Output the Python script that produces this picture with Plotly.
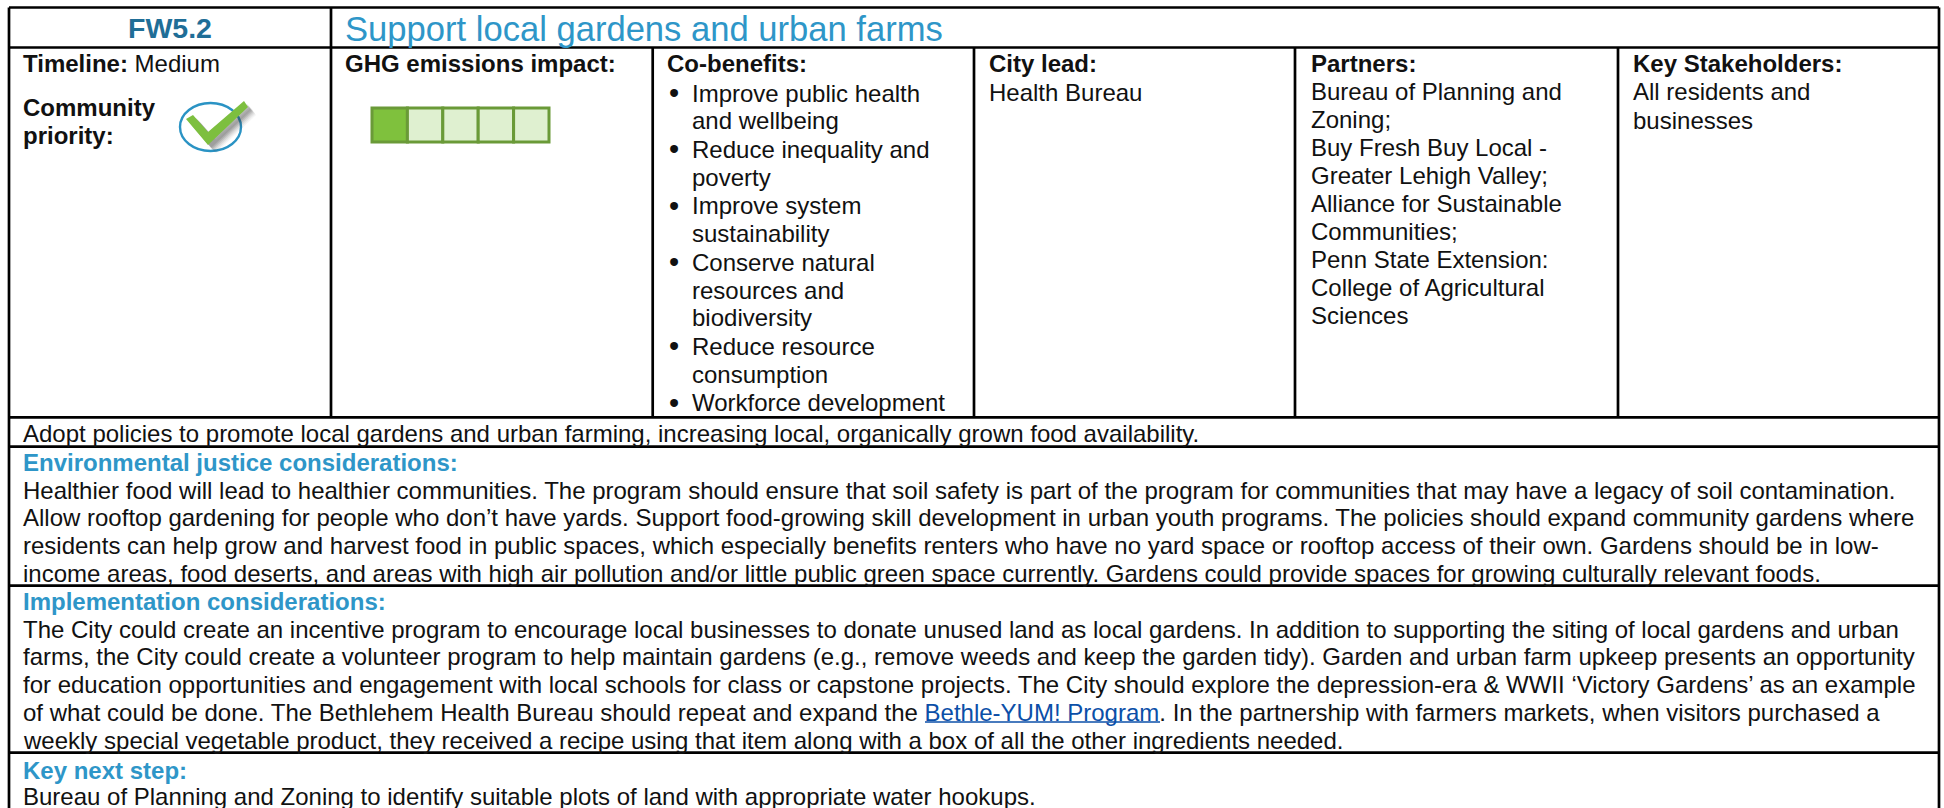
import plotly.graph_objects as go

FONT = "Liberation Sans Narrow, Liberation Sans, Arial, sans-serif"
BODY = 24
BLUE = "#2E96C8"
DARK_BLUE = "#1F6E97"
INK = "#111111"

code_label = "FW5.2"
title_label = "Support local gardens and urban farms"
timeline = "<b>Timeline:</b> Medium"
priority_label = ["<b>Community</b>", "<b>priority:</b>"]
ghg_label = "<b>GHG emissions impact:</b>"
ghg_levels = [1, 0, 0, 0, 0]
cobenefits_label = "<b>Co-benefits:</b>"
cobenefits = [
    ["Improve public health", "and wellbeing"],
    ["Reduce inequality and", "poverty"],
    ["Improve system", "sustainability"],
    ["Conserve natural", "resources and", "biodiversity"],
    ["Reduce resource", "consumption"],
    ["Workforce development"],
]
lead_lines = ["<b>City lead:</b>", "Health Bureau"]
partner_lines = [
    "<b>Partners:</b>", "Bureau of Planning and", "Zoning;", "Buy Fresh Buy Local -",
    "Greater Lehigh Valley;", "Alliance for Sustainable", "Communities;",
    "Penn State Extension:", "College of Agricultural", "Sciences",
]
stakeholder_lines = ["<b>Key Stakeholders:</b>", "All residents and", "businesses"]
summary = "Adopt policies to promote local gardens and urban farming, increasing local, organically grown food availability."
ej_head = "<b>Environmental justice considerations:</b>"
ej_lines = [
    "Healthier food will lead to healthier communities. The program should ensure that soil safety is part of the program for communities that may have a legacy of soil contamination.",
    "Allow rooftop gardening for people who don’t have yards. Support food-growing skill development in urban youth programs. The policies should expand community gardens where",
    "residents can help grow and harvest food in public spaces, which especially benefits renters who have no yard space or rooftop access of their own. Gardens should be in low-",
    "income areas, food deserts, and areas with high air pollution and/or little public green space currently. Gardens could provide spaces for growing culturally relevant foods.",
]
impl_head = "<b>Implementation considerations:</b>"
impl_lines = [
    "The City could create an incentive program to encourage local businesses to donate unused land as local gardens. In addition to supporting the siting of local gardens and urban",
    "farms, the City could create a volunteer program to help maintain gardens (e.g., remove weeds and keep the garden tidy). Garden and urban farm upkeep presents an opportunity",
    "for education opportunities and engagement with local schools for class or capstone projects. The City should explore the depression-era &amp; WWII ‘Victory Gardens’ as an example",
    "of what could be done. The Bethlehem Health Bureau should repeat and expand the <span style='color:#0B4FA8'>Bethle-YUM! Program</span>. In the partnership with farmers markets, when visitors purchased a",
    "weekly special vegetable product, they received a recipe using that item along with a box of all the other ingredients needed.",
]
next_head = "<b>Key next step:</b>"
next_line = "Bureau of Planning and Zoning to identify suitable plots of land with appropriate water hookups."

annotations = []
shapes = []

def text(x, y, s, size=BODY, color=INK, anchor="left"):
    annotations.append(dict(x=x, y=y, xref="x", yref="y", text=s, showarrow=False,
                            xanchor=anchor, yanchor="middle", align="left",
                            borderpad=0, borderwidth=0,
                            font=dict(family=FONT, size=size, color=color)))

def block(x, y, lines, step=27.8, **kw):
    for i, s in enumerate(lines):
        text(x, y + i * step, s, **kw)

def rule(x0, y0, x1, y1, w=2.7):
    shapes.append(dict(type="line", x0=x0, y0=y0, x1=x1, y1=y1, xref="x", yref="y",
                       line=dict(color="#000000", width=w)))

L, R, T = 9, 1939, 7.5
HEAD_B, ROW_B, SUM_B, EJ_B, IMPL_B, BOT = 47.5, 417.3, 446.7, 585.7, 752.7, 812
COLS = [331, 652.7, 974, 1295, 1618]

for y in [T, HEAD_B, ROW_B, SUM_B, EJ_B, IMPL_B]:
    rule(L, y, R, y)
rule(L, T, L, BOT)
rule(R, T, R, BOT)
rule(COLS[0], T, COLS[0], ROW_B)
for cx in COLS[1:]:
    rule(cx, HEAD_B, cx, ROW_B)

text(170, 28, "<b>" + code_label + "</b>", size=28.5, color=DARK_BLUE, anchor="center")
text(345, 29, title_label, size=34.6, color=BLUE)

text(23, 63, timeline)
block(23, 107, priority_label, step=28)
text(345, 63, ghg_label)

# GHG impact boxes
BOX_X, BOX_W, BOX_T, BOX_B = 372, 35.4, 108, 142
for i, level in enumerate(ghg_levels):
    shapes.append(dict(type="rect", xref="x", yref="y",
                       x0=BOX_X + i * BOX_W, x1=BOX_X + (i + 1) * BOX_W, y0=BOX_T, y1=BOX_B,
                       fillcolor="#7FC13D" if level else "#DFF0D0",
                       line=dict(color="#6A9A38", width=3)))

# community priority tick
def poly(pts, dx=0, dy=0):
    return "M" + " L".join(f"{x + dx},{y + dy}" for x, y in pts) + " Z"

TICK = [(186, 119), (193, 115), (208, 132), (244, 101), (248, 107), (208, 145)]
shapes.append(dict(type="circle", xref="x", yref="y", x0=180, x1=241, y0=103, y1=151,
                   line=dict(color="#2A93C4", width=2.4), fillcolor="rgba(0,0,0,0)"))
for off, alpha in [(8, 0.05), (7, 0.07), (6, 0.09), (5, 0.12), (4, 0.14), (3, 0.14)]:
    shapes.append(dict(type="path", xref="x", yref="y", path=poly(TICK, off, off),
                       fillcolor=f"rgba(60,60,60,{alpha})", line=dict(width=0)))
shapes.append(dict(type="path", xref="x", yref="y", path=poly(TICK),
                   fillcolor="#7DBF3F", line=dict(width=0)))

# co-benefits list
text(667, 63, cobenefits_label)
y = 93
for item in cobenefits:
    text(669, y, "•", size=29)
    for line in item:
        text(692, y, line)
        y += 27.8
    y += 0.8

block(989, 63, lead_lines, step=29)
block(1311, 63, partner_lines, step=28)
block(1633, 63, stakeholder_lines, step=28.5)

text(23, 433, summary)
text(23, 462, ej_head, color=BLUE)
block(23, 490, ej_lines)
text(23, 601, impl_head, color=BLUE)
block(23, 629, impl_lines)
text(23, 770, next_head, color=BLUE)
text(23, 796.5, next_line)

# hyperlink underline
shapes.append(dict(type="line", xref="x", yref="y", x0=925, x1=1160, y0=722, y1=722,
                   line=dict(color="#0B4FA8", width=1.5)))

fig = go.Figure()
fig.update_layout(
    width=1944, height=808, margin=dict(l=0, r=0, t=0, b=0),
    paper_bgcolor="#FFFFFF", plot_bgcolor="#FFFFFF", showlegend=False,
    xaxis=dict(range=[0, 1944], visible=False, fixedrange=True),
    yaxis=dict(range=[808, 0], visible=False, fixedrange=True),
    annotations=annotations, shapes=shapes,
)
fig.write_html("out.html", config=dict(displayModeBar=False),
               post_script="document.body.style.margin='0';document.documentElement.style.overflow='hidden';")
